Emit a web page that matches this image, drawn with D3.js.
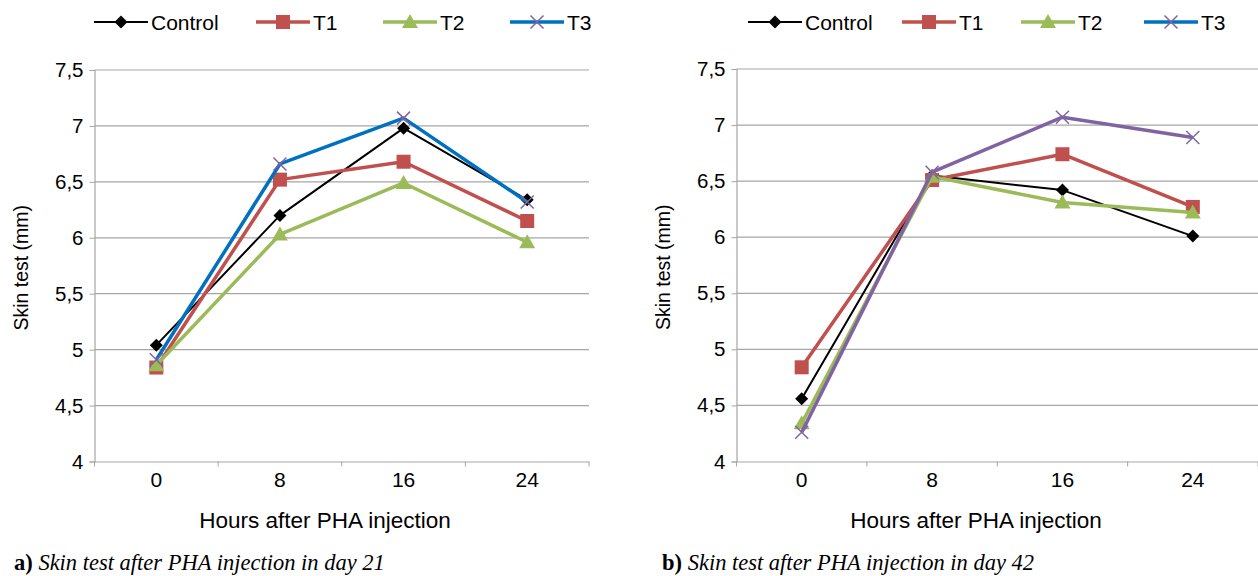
<!DOCTYPE html>
<html>
<head>
<meta charset="utf-8">
<script src="https://cdn.jsdelivr.net/npm/d3@7"></script>
<style>
  body { margin: 0; background: #fff; }
  svg { display: block; }
</style>
</head>
<body>
<div id="chart"></div>
<script>
const hours = ['0', '8', '16', '24']
const seriesNames = ['Control', 'T1', 'T2', 'T3']
const yTicks = [4, 4.5, 5, 5.5, 6, 6.5, 7, 7.5]

const day21Control = [5.04, 6.20, 6.98, 6.34]
const day21T1 = [4.84, 6.52, 6.68, 6.15]
const day21T2 = [4.86, 6.03, 6.49, 5.96]
const day21T3 = [4.91, 6.66, 7.07, 6.32]

const day42Control = [4.56, 6.55, 6.42, 6.01]
const day42T1 = [4.84, 6.51, 6.74, 6.27]
const day42T2 = [4.34, 6.54, 6.31, 6.22]
const day42T3 = [4.26, 6.58, 7.07, 6.89]

const styles = {
  Control: { color: '#000', width: 2, marker: 'diamond', markerColor: '#000' },
  T1: { color: '#C0504D', width: 3.5, marker: 'square', markerColor: '#C0504D' },
  T2: { color: '#9BBB59', width: 3.5, marker: 'triangle', markerColor: '#9BBB59' },
  T3: { color: '#0070C0', width: 3.5, marker: 'cross', markerColor: '#8064A2' }
}

const width = 1258
const height = 576
const svg = d3.select('#chart')
  .append('svg')
  .attr('width', width)
  .attr('height', height)

const font = '"Liberation Sans", Arial, sans-serif'

function drawMarker (g, type, x, y, color) {
  if (type === 'diamond') {
    g.append('path')
      .attr('d', `M${x},${y - 6.5}L${x + 6.5},${y}L${x},${y + 6.5}L${x - 6.5},${y}Z`)
      .attr('fill', color)
  } else if (type === 'square') {
    g.append('rect')
      .attr('x', x - 7).attr('y', y - 7)
      .attr('width', 14).attr('height', 14)
      .attr('fill', color)
  } else if (type === 'triangle') {
    g.append('path')
      .attr('d', `M${x},${y - 8}L${x + 8},${y + 6}L${x - 8},${y + 6}Z`)
      .attr('fill', color)
  } else {
    g.append('path')
      .attr('d', `M${x - 6.5},${y - 6.5}L${x + 6.5},${y + 6.5}M${x - 6.5},${y + 6.5}L${x + 6.5},${y - 6.5}`)
      .attr('stroke', color)
      .attr('stroke-width', 1.5)
      .attr('fill', 'none')
  }
}

function drawChart ({ left, right, top, bottom, values, t3Color, legend, xTitleX, yTitleX, caption, captionX }) {
  const g = svg.append('g')

  const x = d3.scaleBand()
    .domain(hours)
    .range([left, right])

  const y = d3.scaleLinear()
    .domain([4, 7.5])
    .range([bottom, top])

  // gridlines
  g.append('g')
    .selectAll('line')
    .data(yTicks.slice(1))
    .join('line')
    .attr('x1', left)
    .attr('x2', right)
    .attr('y1', d => y(d))
    .attr('y2', d => y(d))
    .attr('stroke', '#a6a6a6')
    .attr('stroke-width', 1.2)

  const yAxis = g.append('g')
    .attr('transform', `translate(${left}, 0)`)
    .call(d3.axisLeft(y).tickValues(yTicks).tickSize(5).tickPadding(6)
      .tickFormat(d => String(d).replace('.', ',')))
  yAxis.select('.domain').attr('stroke', '#a6a6a6').attr('stroke-width', 1.2)
  yAxis.selectAll('.tick line').attr('stroke', '#a6a6a6')
  yAxis.selectAll('text').attr('font-family', font).attr('font-size', 20.5).attr('fill', '#000')

  const xAxis = g.append('g')
    .attr('transform', `translate(0, ${bottom})`)
    .call(d3.axisBottom(x).tickSize(0).tickPadding(11))
  xAxis.select('.domain').attr('stroke', '#a6a6a6').attr('stroke-width', 1.2)
  xAxis.selectAll('text').attr('font-family', font).attr('font-size', 21).attr('fill', '#000')

  // tick marks on category boundaries
  g.append('g')
    .selectAll('line')
    .data(hours.concat(['end']))
    .join('line')
    .attr('x1', (d, i) => left + i * x.step())
    .attr('x2', (d, i) => left + i * x.step())
    .attr('y1', bottom)
    .attr('y2', bottom + 5)
    .attr('stroke', '#a6a6a6')

  g.append('text')
    .attr('x', xTitleX)
    .attr('y', bottom + 66)
    .attr('text-anchor', 'middle')
    .attr('font-family', font)
    .attr('font-size', 22.5)
    .text('Hours after PHA injection')

  g.append('text')
    .attr('transform', `translate(${yTitleX}, ${(top + bottom) / 2 + 2}) rotate(-90)`)
    .attr('text-anchor', 'middle')
    .attr('font-family', font)
    .attr('font-size', 19.5)
    .text('Skin test (mm)')

  const line = d3.line()
    .x((d, i) => x(hours[i]) + x.bandwidth() / 2)
    .y(d => y(d))

  seriesNames.forEach((name, si) => {
    const st = styles[name]
    const color = name === 'T3' ? t3Color : st.color
    g.append('path')
      .datum(values[si])
      .attr('fill', 'none')
      .attr('stroke', color)
      .attr('stroke-width', st.width)
      .attr('stroke-linejoin', 'round')
      .attr('d', line)
    values[si].forEach((v, i) => {
      drawMarker(g, st.marker, x(hours[i]) + x.bandwidth() / 2, y(v), st.markerColor)
    })
  })

  // legend
  seriesNames.forEach((name, si) => {
    const st = styles[name]
    const lx = legend[si]
    g.append('line')
      .attr('x1', lx).attr('x2', lx + 54)
      .attr('y1', 22).attr('y2', 22)
      .attr('stroke', st.color)
      .attr('stroke-width', st.width)
    drawMarker(g, st.marker, lx + 27, 22, st.markerColor)
    g.append('text')
      .attr('x', lx + 57)
      .attr('y', 30)
      .attr('font-family', font)
      .attr('font-size', 21)
      .text(name)
  })

  const cap = g.append('text')
    .attr('x', captionX)
    .attr('y', 570)
    .attr('font-family', '"Liberation Serif", "Times New Roman", serif')
    .attr('font-size', 22.5)
  cap.append('tspan').attr('font-weight', 'bold').text(caption[0])
  cap.append('tspan').attr('font-style', 'italic').text(caption[1])
}

drawChart({
  left: 94.5,
  right: 589,
  top: 70,
  bottom: 461.5,
  values: [day21Control, day21T1, day21T2, day21T3],
  t3Color: '#0070C0',
  legend: [94, 256, 383, 510],
  xTitleX: 325,
  yTitleX: 28,
  caption: ['a)', ' Skin test after PHA injection in day 21'],
  captionX: 14
})

drawChart({
  left: 736.5,
  right: 1258,
  top: 69,
  bottom: 461.5,
  values: [day42Control, day42T1, day42T2, day42T3],
  t3Color: '#8064A2',
  legend: [748, 902, 1021, 1144],
  xTitleX: 976,
  yTitleX: 670,
  caption: ['b)', ' Skin test after PHA injection in day 42'],
  captionX: 662
})
</script>
</body>
</html>
